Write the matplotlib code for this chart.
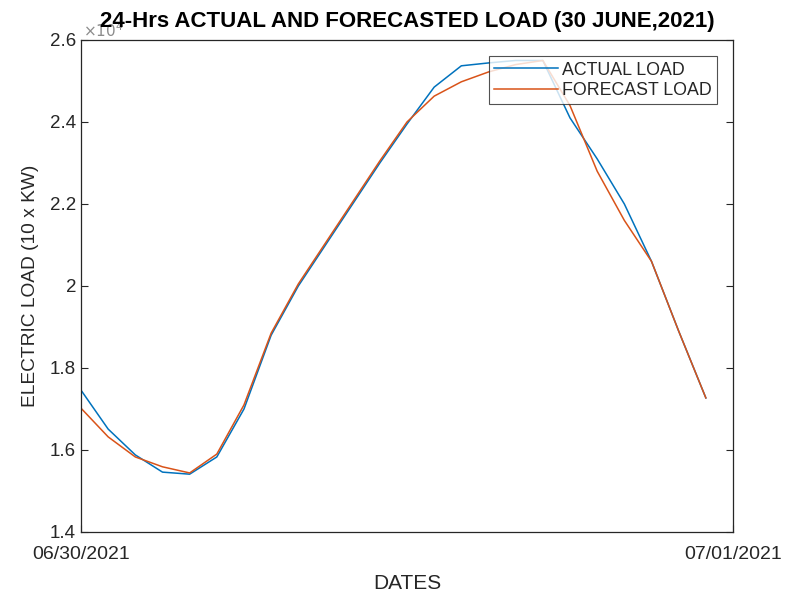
import matplotlib
matplotlib.use("Agg")
import matplotlib.pyplot as plt
from matplotlib.ticker import FuncFormatter, FixedLocator

plt.rcParams['font.family'] = ['Liberation Sans', 'DejaVu Sans']

# Hourly load for 30 June 2021 (kW x 10)
hours = list(range(24))
actual_load = [17460, 16510, 15880, 15460, 15410, 15830, 17000, 18800,
               20000, 21000, 22000, 23000, 23950, 24850, 25370, 25440,
               25500, 25500, 24100, 23100, 22000, 20600, 18900, 17270]
forecast_load = [17020, 16320, 15830, 15590, 15440, 15900, 17100, 18850,
                 20050, 21050, 22050, 23050, 24000, 24630, 24980, 25220,
                 25400, 25500, 24400, 22800, 21600, 20600, 18900, 17270]
date_ticks = [0, 24]
date_labels = ['06/30/2021', '07/01/2021']
y_ticks = [14000, 16000, 18000, 20000, 22000, 24000, 26000]
y_scale = 1e4

text_col = '#262626'
fig = plt.figure(figsize=(7.87, 5.94), dpi=100)
ax = fig.add_axes([0.1029, 0.1044, 0.8285, 0.8283])

ax.plot(hours, actual_load, color='#0072BD', lw=1.1, label='ACTUAL LOAD')
ax.plot(hours, forecast_load, color='#D95319', lw=1.1, label='FORECAST LOAD')

ax.set_xlim(0, 24)
ax.set_ylim(14000, 26000)
ax.xaxis.set_major_locator(FixedLocator(date_ticks))
ax.set_xticklabels(date_labels)
ax.yaxis.set_major_locator(FixedLocator(y_ticks))
ax.yaxis.set_major_formatter(FuncFormatter(lambda v, p: f'{v / y_scale:g}'))

# exponent marker for the y axis
ax.text(0.003, 1.0, r'$\times10^{4}$', transform=ax.transAxes,
        fontsize=11, color='#8c8c8c', ha='left', va='bottom', zorder=1)

ax.tick_params(axis='both', direction='in', length=5, width=0.8,
               colors=text_col, labelsize=13.5, top=False, right=True)
ax.tick_params(axis='x', pad=10, labelsize=14)
for s in ax.spines.values():
    s.set_color(text_col)
    s.set_linewidth(0.9)

ax.set_title('24-Hrs ACTUAL AND FORECASTED LOAD (30 JUNE,2021)',
             fontsize=16, fontweight='bold', color='black', pad=9, zorder=5)
ax.set_xlabel('DATES', fontsize=15, color=text_col, labelpad=8)
ax.set_ylabel('ELECTRIC LOAD (10 x KW)', fontsize=13.8, color=text_col, labelpad=8)

leg = ax.legend(loc='upper right', bbox_to_anchor=(0.975, 0.967), fontsize=12.8,
                frameon=True, fancybox=False, edgecolor=text_col,
                handlelength=3.6, handletextpad=0.2, borderpad=0.3,
                labelspacing=0.2, borderaxespad=0)
leg.get_frame().set_linewidth(0.8)
for t in leg.get_texts():
    t.set_color(text_col)

fig.savefig('out.png', dpi=100)
